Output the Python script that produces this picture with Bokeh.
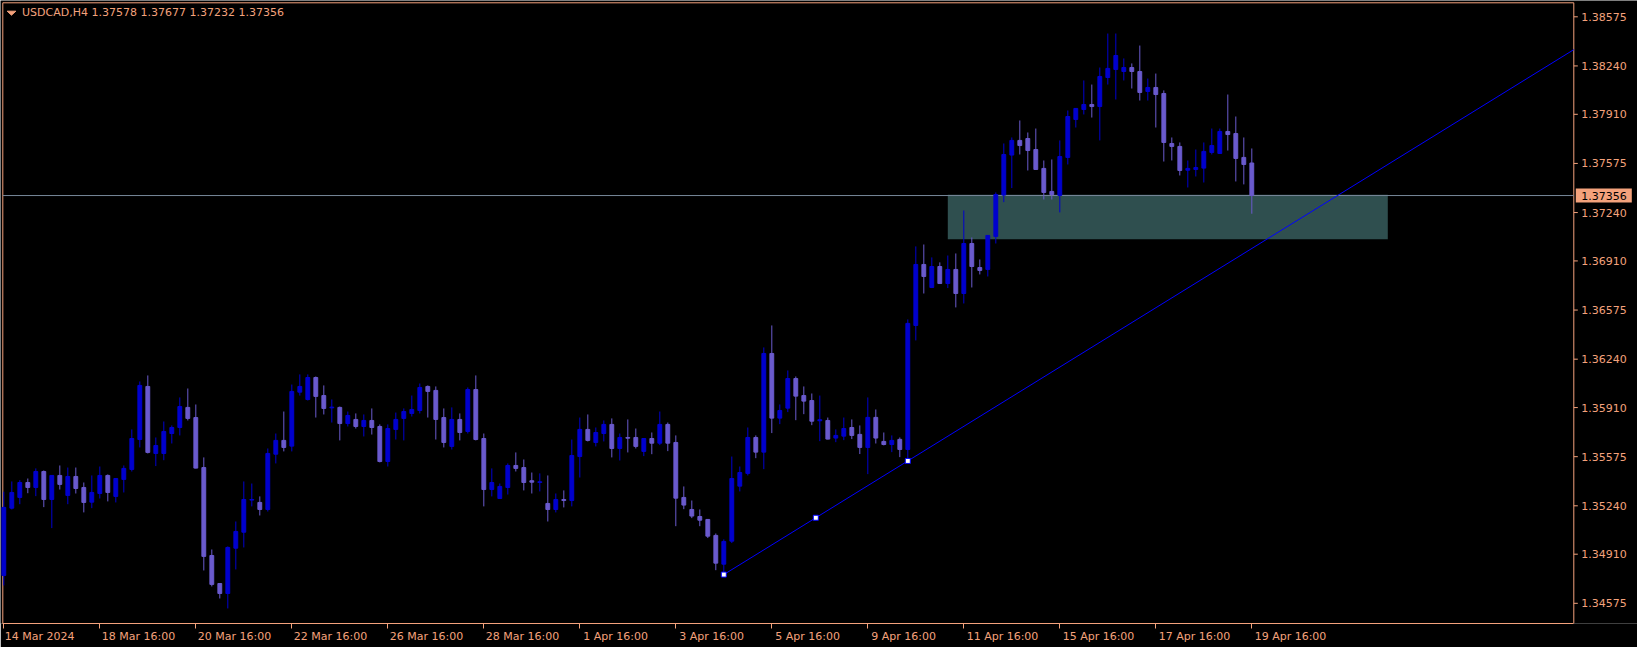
import numpy as np
from bokeh.plotting import figure
from bokeh.models import (ColumnDataSource, FixedTicker, Label, PolyAnnotation, Range1d)
from bokeh.core.properties import value
from bokeh.embed import file_html
from bokeh.resources import INLINE

# ---------------- data (USDCAD H4, 14 Mar 2024 16:00 .. 19 Apr 2024 16:00) ----------------
symbol = "USDCAD,H4"

open_ = [1.34765, 1.35224, 1.35297, 1.35399, 1.35365, 1.35474, 1.35283, 1.35447, 1.35311, 1.35440,
         1.35365, 1.35265, 1.35324, 1.35447, 1.35304, 1.35420, 1.35488, 1.35692, 1.36054, 1.35597,
         1.35597, 1.35733, 1.35774, 1.35911, 1.35842, 1.35501, 1.34901, 1.34710, 1.34642, 1.34951,
         1.35060, 1.35279, 1.35263, 1.35215, 1.35592, 1.35686, 1.35647, 1.36015, 1.35965, 1.36115,
         1.35992, 1.35908, 1.35911, 1.35801, 1.35829, 1.35781, 1.35822, 1.35781, 1.35542, 1.35761,
         1.35836, 1.35870, 1.35890, 1.36054, 1.36027, 1.35842, 1.35645, 1.35829, 1.35747, 1.36033,
         1.35699, 1.35351, 1.35290, 1.35365, 1.35515, 1.35501, 1.35411, 1.35399, 1.35256, 1.35215,
         1.35283, 1.35276, 1.35576, 1.35761, 1.35672, 1.35733, 1.35795, 1.35631, 1.35706, 1.35706,
         1.35611, 1.35699, 1.35667, 1.35795, 1.35672, 1.35297, 1.35215, 1.35167, 1.35147, 1.35038,
         1.34842, 1.34999, 1.35374, 1.35461, 1.35706, 1.35606, 1.36279, 1.35838, 1.35906, 1.36108,
         1.35992, 1.35958, 1.35820, 1.35822, 1.35702, 1.35715, 1.35774, 1.35727, 1.35638, 1.35843,
         1.35679, 1.35658, 1.35693, 1.35624, 1.36470, 1.36886, 1.36729, 1.36872, 1.36756, 1.36852,
         1.36688, 1.37029, 1.36865, 1.36852, 1.37077, 1.37359, 1.37632, 1.37732, 1.37745, 1.37670,
         1.37541, 1.37384, 1.37357, 1.37616, 1.37875, 1.37943, 1.37977, 1.37963, 1.38161, 1.38216,
         1.38202, 1.38229, 1.38202, 1.38066, 1.38093, 1.38052, 1.37711, 1.37691, 1.37529, 1.37534,
         1.37543, 1.37650, 1.37643, 1.37793, 1.37779, 1.37616, 1.37578]

high = [1.35336, 1.35406, 1.35415, 1.35426, 1.35495, 1.35481, 1.35449, 1.35515, 1.35501, 1.35501,
        1.35399, 1.35447, 1.35508, 1.35454, 1.35428, 1.35515, 1.35761, 1.36088, 1.36129, 1.35706,
        1.35815, 1.35788, 1.35979, 1.36040, 1.35931, 1.35570, 1.34942, 1.34712, 1.34963, 1.35133,
        1.35406, 1.35392, 1.35304, 1.35631, 1.35733, 1.35883, 1.36067, 1.36136, 1.36136, 1.36122,
        1.36061, 1.35965, 1.35917, 1.35883, 1.35870, 1.35863, 1.35904, 1.35795, 1.35795, 1.35876,
        1.35904, 1.35992, 1.36074, 1.36061, 1.36054, 1.35904, 1.35911, 1.35870, 1.36047, 1.36129,
        1.35733, 1.35495, 1.35392, 1.35529, 1.35604, 1.35556, 1.35467, 1.35461, 1.35447, 1.35324,
        1.35345, 1.35692, 1.35842, 1.35863, 1.35774, 1.35822, 1.35836, 1.35733, 1.35829, 1.35767,
        1.35702, 1.35740, 1.35883, 1.35808, 1.35720, 1.35372, 1.35276, 1.35215, 1.35149, 1.35051,
        1.35011, 1.35576, 1.35508, 1.35774, 1.35720, 1.36320, 1.36470, 1.35931, 1.36163, 1.36122,
        1.36054, 1.36006, 1.35992, 1.35842, 1.35761, 1.35842, 1.35829, 1.35788, 1.35979, 1.35897,
        1.35740, 1.35720, 1.35706, 1.36511, 1.37009, 1.37022, 1.36934, 1.36900, 1.36947, 1.36961,
        1.37254, 1.37070, 1.36920, 1.37086, 1.37377, 1.37711, 1.37752, 1.37868, 1.37786, 1.37813,
        1.37595, 1.37602, 1.37732, 1.37936, 1.37952, 1.38141, 1.38113, 1.38229, 1.38461, 1.38461,
        1.38291, 1.38257, 1.38379, 1.38154, 1.38188, 1.38073, 1.37752, 1.37718, 1.37595, 1.37670,
        1.37718, 1.37813, 1.37813, 1.38045, 1.37895, 1.37752, 1.37677]

low = [1.34697, 1.35215, 1.35251, 1.35326, 1.35306, 1.35231, 1.35088, 1.35351, 1.35251, 1.35324,
       1.35195, 1.35224, 1.35290, 1.35270, 1.35263, 1.35331, 1.35474, 1.35638, 1.35597, 1.35511,
       1.35551, 1.35665, 1.35720, 1.35822, 1.35495, 1.34799, 1.34690, 1.34608, 1.34540, 1.34806,
       1.34956, 1.35236, 1.35174, 1.35201, 1.35529, 1.35611, 1.35611, 1.35992, 1.35958, 1.35842,
       1.35863, 1.35808, 1.35686, 1.35781, 1.35767, 1.35713, 1.35726, 1.35536, 1.35508, 1.35692,
       1.35686, 1.35849, 1.35870, 1.35842, 1.35692, 1.35638, 1.35624, 1.35686, 1.35733, 1.35686,
       1.35236, 1.35304, 1.35288, 1.35317, 1.35474, 1.35345, 1.35324, 1.35338, 1.35133, 1.35195,
       1.35229, 1.35236, 1.35433, 1.35679, 1.35645, 1.35679, 1.35570, 1.35549, 1.35604, 1.35631,
       1.35579, 1.35592, 1.35654, 1.35613, 1.35101, 1.35217, 1.35156, 1.35101, 1.35020, 1.34801,
       1.34778, 1.34986, 1.35338, 1.35447, 1.35565, 1.35490, 1.35736, 1.35797, 1.35879, 1.35824,
       1.35865, 1.35790, 1.35681, 1.35693, 1.35674, 1.35688, 1.35695, 1.35593, 1.35456, 1.35665,
       1.35652, 1.35606, 1.35572, 1.35542, 1.36368, 1.36688, 1.36725, 1.36754, 1.36725, 1.36593,
       1.36620, 1.36729, 1.36818, 1.36804, 1.37029, 1.37311, 1.37407, 1.37636, 1.37527, 1.37532,
       1.37329, 1.37329, 1.37241, 1.37568, 1.37820, 1.37909, 1.37888, 1.37732, 1.38113, 1.38011,
       1.38141, 1.38086, 1.38004, 1.38004, 1.37820, 1.37588, 1.37595, 1.37493, 1.37411, 1.37486,
       1.37445, 1.37636, 1.37641, 1.37663, 1.37452, 1.37432, 1.37232]

close = [1.35229, 1.35331, 1.35399, 1.35365, 1.35474, 1.35283, 1.35447, 1.35386, 1.35440, 1.35358,
         1.35263, 1.35331, 1.35447, 1.35331, 1.35426, 1.35495, 1.35699, 1.36061, 1.35604, 1.35651,
         1.35747, 1.35774, 1.35917, 1.35836, 1.35497, 1.34895, 1.34704, 1.34642, 1.34956, 1.35065,
         1.35283, 1.35283, 1.35215, 1.35597, 1.35686, 1.35638, 1.36020, 1.36054, 1.36115, 1.35986,
         1.35904, 1.35913, 1.35801, 1.35856, 1.35781, 1.35822, 1.35774, 1.35542, 1.35767, 1.35829,
         1.35883, 1.35897, 1.36047, 1.36020, 1.35829, 1.35672, 1.35829, 1.35740, 1.36033, 1.35692,
         1.35351, 1.35399, 1.35372, 1.35515, 1.35495, 1.35399, 1.35401, 1.35404, 1.35215, 1.35283,
         1.35276, 1.35583, 1.35761, 1.35686, 1.35740, 1.35795, 1.35631, 1.35706, 1.35701, 1.35645,
         1.35699, 1.35667, 1.35795, 1.35667, 1.35292, 1.35245, 1.35170, 1.35142, 1.35033, 1.34849,
         1.34997, 1.35426, 1.35467, 1.35706, 1.35606, 1.36279, 1.35838, 1.35890, 1.36108, 1.35988,
         1.35954, 1.35817, 1.35827, 1.35695, 1.35720, 1.35767, 1.35720, 1.35638, 1.35843, 1.35702,
         1.35658, 1.35686, 1.35624, 1.36484, 1.36886, 1.36804, 1.36872, 1.36756, 1.36852, 1.36688,
         1.37029, 1.36872, 1.36845, 1.37084, 1.37363, 1.37636, 1.37732, 1.37697, 1.37663, 1.37534,
         1.37377, 1.37363, 1.37622, 1.37895, 1.37950, 1.37977, 1.37963, 1.38168, 1.38223, 1.38311,
         1.38229, 1.38202, 1.38059, 1.38093, 1.38045, 1.37718, 1.37691, 1.37527, 1.37541, 1.37547,
         1.37657, 1.37697, 1.37793, 1.37772, 1.37609, 1.37568, 1.37356]

# time-axis ticks (bar index) and their labels
tick_bars = [0, 12, 24, 36, 48, 60, 72, 84, 96, 108, 120, 132, 144, 156]
tick_labels = ["14 Mar 2024", "18 Mar 16:00", "20 Mar 16:00", "22 Mar 16:00", "26 Mar 16:00",
               "28 Mar 16:00", "1 Apr 16:00", "3 Apr 16:00", "5 Apr 16:00", "9 Apr 16:00",
               "11 Apr 16:00", "15 Apr 16:00", "17 Apr 16:00", "19 Apr 16:00"]

# price-scale labels
price_ticks = [1.34575, 1.34910, 1.35240, 1.35575, 1.35910, 1.36240, 1.36575,
               1.36910, 1.37240, 1.37575, 1.37910, 1.38240, 1.38575]

# drawn objects
zone_bars = [118, 173]
zone_prices = [1.37058, 1.37361]
trend_bars = [90, 113]
trend_prices = [1.34771, 1.35546]

# ---------------- style / layout ----------------
FG = "#f4a27c"
BULL = "#0000cd"
BEAR = "#6a5acd"
ZONE = "#2f4f4f"
BID = "#778899"
TREND = "#0000ff"
FONT = "DejaVu Sans"

W, H = 1637, 647
MB = 24                      # room for the time scale
FW, FH = W, H - MB           # plotting frame covers chart + price scale
PX_BAR = 8.0                 # pixels per bar
x_start = -3.3 / PX_BAR
x_end = x_start + FW / PX_BAR
x_left = x_start + 2.3 / PX_BAR        # chart border (left)
x_right = x_start + 1573.3 / PX_BAR    # chart border (right) / price scale start
y_end = 1.386862
y_start = 1.344373
ppx = (y_end - y_start) / FH           # price per pixel
y_top = y_end - 2.3 * ppx              # chart border (top)

n = len(close)
xs = np.arange(n)
colors = [BULL if c >= o else BEAR for o, c in zip(open_, close)]
src = ColumnDataSource(dict(
    x=xs, high=high, low=low,
    top=np.maximum(open_, close), bottom=np.minimum(open_, close), color=colors))

p = figure(width=W, height=H, output_backend="svg", toolbar_location=None,
           x_range=Range1d(x_start, x_end), y_range=Range1d(y_start, y_end),
           y_axis_location=None,
           background_fill_color="black", border_fill_color="black",
           outline_line_color=None,
           min_border_left=0, min_border_top=0, min_border_right=0, min_border_bottom=MB)
p.grid.visible = False

# time scale: tick marks as minor ticks at the bars, labels to the right of each mark
label_pos = [round(b + (3 + 5.95 * len(t) / 2) / PX_BAR, 3) for b, t in zip(tick_bars, tick_labels)]
xa = p.xaxis[0]
xa.ticker = FixedTicker(ticks=label_pos, minor_ticks=tick_bars)
xa.major_label_overrides = {lp: t for lp, t in zip(label_pos, tick_labels)}
xa.bounds = (x_left, x_right)
xa.axis_line_color = FG
xa.major_tick_line_color = None
xa.major_tick_out = 3
xa.major_tick_in = 0
xa.minor_tick_line_color = FG
xa.minor_tick_out = 5
xa.minor_tick_in = 0
xa.major_label_text_color = FG
xa.major_label_text_font = FONT
xa.major_label_text_font_size = "11px"
xa.major_label_standoff = 1

# chart border (left, top, right); bottom is the time axis line
p.segment(x0=[x_left, x_left, x_right], y0=[y_start, y_top, y_start],
          x1=[x_left, x_right, x_right], y1=[y_top, y_top, y_top], line_color=FG, line_width=1)

# zone rectangle
p.quad(left=[zone_bars[0]], right=[zone_bars[1]], bottom=[zone_prices[0]], top=[zone_prices[1]],
       fill_color=ZONE, line_color=None)

# bid line
p.segment(x0=[x_left], x1=[x_right], y0=[close[-1]], y1=[close[-1]], line_color=BID, line_width=1)

# candles
p.segment(x0="x", y0="low", x1="x", y1="high", line_color="color", line_width=1, source=src)
p.vbar(x="x", width=0.48, top="top", bottom="bottom", fill_color="color",
       line_color="color", line_width=1, source=src)

# trend line (ray to the right edge of the chart)
slope = (trend_prices[1] - trend_prices[0]) / (trend_bars[1] - trend_bars[0])
ray_x = [trend_bars[0], x_right]
ray_y = [trend_prices[0], trend_prices[0] + slope * (x_right - trend_bars[0])]
p.line(ray_x, ray_y, line_color=TREND, line_width=1)
hx = [trend_bars[0], (trend_bars[0] + trend_bars[1]) / 2, trend_bars[1]]
hy = [trend_prices[0], (trend_prices[0] + trend_prices[1]) / 2, trend_prices[1]]
p.scatter(hx, hy, marker="square", size=5, fill_color="white", line_color=TREND, line_width=1)

# price scale (ticks + labels)
p.segment(x0=[x_right] * len(price_ticks), x1=[x_right + 4 / PX_BAR] * len(price_ticks),
          y0=price_ticks, y1=price_ticks, line_color=FG, line_width=1)
p.text(x=[x_right + 7.4 / PX_BAR] * len(price_ticks), y=price_ticks,
       text=[f"{v:.5f}" for v in price_ticks], text_color=FG,
       text_font=value(FONT), text_font_size=value("11px"),
       text_baseline="middle", text_align="left")

# current price tag
p.quad(left=[x_right + 2 / PX_BAR], right=[x_right + 58 / PX_BAR],
       bottom=[close[-1] - 7 * ppx], top=[close[-1] + 7 * ppx],
       fill_color=FG, line_color=None)
p.text(x=[x_right + 7.4 / PX_BAR], y=[close[-1]], text=[f"{close[-1]:.5f}"],
       text_color="black", text_font=value(FONT), text_font_size=value("11px"),
       text_baseline="middle", text_align="left")

# header
header = f"{symbol}  {open_[-1]:.5f} {high[-1]:.5f} {low[-1]:.5f} {close[-1]:.5f}"
p.add_layout(Label(x=21.5, y=FH - 12.3, x_units="screen", y_units="screen", text=header,
                   text_color=FG, text_font=FONT, text_font_size="11px",
                   text_baseline="middle", text_align="left"))
p.add_layout(PolyAnnotation(xs=[6.7, 15.3, 11.0], ys=[FH - 10.7, FH - 10.7, FH - 14.7],
                            xs_units="screen", ys_units="screen",
                            fill_color=FG, fill_alpha=1, line_color=FG, line_alpha=1))

open("out.html", "w").write(file_html(p, INLINE))
